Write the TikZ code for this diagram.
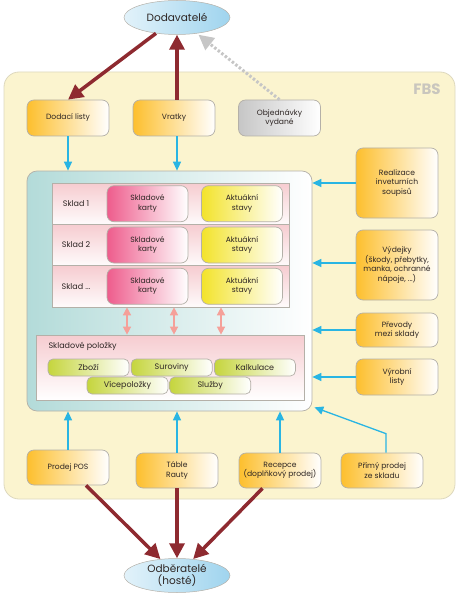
\documentclass[tikz,border=0pt]{standalone}
\usepackage{fontspec}
\setmainfont{Poppins}
\usetikzlibrary{positioning, shapes.geometric, arrows.meta}

\definecolor{fbsyellow}{HTML}{FBF4CF}
\definecolor{fbsline}{HTML}{DDD8BE}
\definecolor{fbstext}{HTML}{C9C6BE}
\definecolor{boxgray}{HTML}{B4B0A8}
\definecolor{textdark}{HTML}{2E2624}
\definecolor{docorange}{HTML}{FDBF2D}
\definecolor{objgray}{HTML}{C6C6C6}
\definecolor{skladteal}{HTML}{B3DBD9}
\definecolor{rowpink}{HTML}{F6CCD0}
\definecolor{cardpink}{HTML}{EE5C8C}
\definecolor{stateyellow}{HTML}{F3E32A}
\definecolor{chipgreen}{HTML}{C5D53D}
\definecolor{partnerblue}{HTML}{9FD4EE}
\definecolor{moneyred}{HTML}{8E2A30}
\definecolor{flowcyan}{HTML}{29B5E3}
\definecolor{linkpink}{HTML}{F5A099}

\tikzset{
  box/.style={draw=boxgray, line width=0.7pt, rounded corners=7pt, align=center,
    inner sep=1pt, text=textdark, font=\fontsize{7.6}{9.4}\selectfont},
  doc/.style={box, left color=docorange, right color=white,
    minimum width=82pt, minimum height=36pt},
  docgray/.style={doc, left color=objgray},
  card/.style={box, left color=cardpink, right color=white,
    minimum width=81pt, minimum height=36pt},
  state/.style={card, left color=stateyellow},
  chip/.style={box, rounded corners=5pt, left color=chipgreen, right color=white,
    minimum width=81pt, minimum height=17pt, font=\fontsize{8}{9}\selectfont},
  row/.style={draw=boxgray, line width=0.7pt, top color=rowpink, bottom color=white!92!rowpink,
    minimum width=237pt, minimum height=41.3pt},
  partner/.style={ellipse, draw=boxgray, line width=0.5pt, left color=partnerblue!30,
    right color=partnerblue, minimum width=106pt, minimum height=34pt, align=center,
    inner sep=0pt, text=textdark, font=\fontsize{10.5}{12}\selectfont},
  money/.style={line width=3.5pt, draw=moneyred, -{Triangle[length=15pt,width=15pt]}},
  flow/.style={line width=1.3pt, draw=flowcyan, -{Triangle[length=9pt,width=8pt]}},
  link/.style={line width=1.4pt, draw=linkpink, {Triangle[length=8pt,width=8pt]}-{Triangle[length=8pt,width=8pt]}}
}

\begin{document}
\begin{tikzpicture}[x=1pt, y=-1pt]
  \useasboundingbox (0,0) rectangle (462,596);

  % FBS area
  \draw[fill=fbsyellow, draw=fbsline, line width=0.8pt, rounded corners=15pt] (4,72) rectangle (455,499);
  \node[text=fbstext, font=\fontsize{15}{15}\selectfont\bfseries] (fbs) at (427,89) {FBS};

  % Suppliers and customers
  \node[partner] (dodavatele) at (177,17.5) {Dodavatelé};
  \node[partner] (odberatele) at (177,575.5) {Odběratelé\\(hosté)};

  % Documents to and from suppliers
  \node[doc] (dodaci) at (68,118) {Dodací listy};
  \node[doc] (vratky) at (174,118) {Vratky};
  \node[docgray] (objednavky) at (279.5,118) {Objednávky\\vydané};

  % Warehouses
  \node[draw=boxgray, line width=0.7pt, rounded corners=10pt, left color=skladteal, right color=white,
    minimum width=285pt, minimum height=240pt] (sklady) at (169.5,291) {};

  \node[row] (sklad1) at (170.5,203.7) {};
  \node[row] (sklad2) at (170.5,245) {};
  \node[row] (sklad3) at (170.5,286.3) {};

  \node[text=textdark, font=\fontsize{8}{9}\selectfont] (label1) at (76,203.7) {Sklad 1};
  \node[text=textdark, font=\fontsize{8}{9}\selectfont] (label2) at (76,245) {Sklad 2};
  \node[text=textdark, font=\fontsize{8}{9}\selectfont] (label3) at (76,286.3) {Sklad ...};

  \node[card] (karty1) at (147.5,203.7) {Skladové\\karty};
  \node[card] (karty2) at (147.5,245) {Skladové\\karty};
  \node[card] (karty3) at (147.5,286.3) {Skladové\\karty};
  \node[state] (stavy1) at (242,203.7) {Aktuákní\\stavy};
  \node[state] (stavy2) at (242,245) {Aktuákní\\stavy};
  \node[state] (stavy3) at (242,286.3) {Aktuákní\\stavy};

  % Stock items
  \node[draw=boxgray, line width=0.7pt, top color=rowpink, bottom color=white,
    minimum width=268pt, minimum height=65pt] (polozky) at (170,367.5) {};
  \node[anchor=west, text=textdark, font=\fontsize{8}{9}\selectfont] (polozkylabel) at (45,346) {Skladové položky};

  \node[chip] (zbozi) at (88.5,367.5) {Zboží};
  \node[chip, right=1.5pt of zbozi] (suroviny) {Suroviny};
  \node[chip, right=1.5pt of suroviny] (kalkulace) {Kalkulace};
  \node[chip] (vicepolozky) at (127.5,385.5) {Vícepoložky};
  \node[chip, right=1pt of vicepolozky] (sluzby) {Služby};

  \draw[link] (sklad3.south -| 127,0) -- (polozky.north -| 127,0);
  \draw[link] (sklad3.south -| 174,0) -- (polozky.north -| 174,0);
  \draw[link] (sklad3.south -| 221,0) -- (polozky.north -| 221,0);

  % Internal documents
  \node[doc, minimum height=70pt] (realizace) at (397,183) {Realizace\\inveturních\\soupisů};
  \node[doc, minimum height=70pt] (vydejky) at (397,265) {Výdejky\\(škody, přebytky,\\manka, ochranné\\nápoje, ...)};
  \node[doc, minimum height=34pt] (prevody) at (397,330) {Převody\\mezi sklady};
  \node[doc, minimum height=36pt] (vyrobni) at (397,377) {Výrobní\\listy};

  % Sales
  \node[doc, minimum height=35pt] (prodej) at (68,467.5) {Prodej POS};
  \node[doc, minimum height=35pt] (table) at (177,470.5) {Táble\\Rauty};
  \node[doc, minimum height=35pt, inner sep=0pt] (recepce) at (280,470.5) {Recepce\\(doplňkový prodej)};
  \node[doc, minimum height=35pt] (primy) at (382,470.5) {Přímý prodej\\ze skladu};

  % Arrows to and from suppliers
  \draw[money] (dodavatele) -- (dodaci.north);
  \draw[money] (vratky.north -| dodavatele) -- (dodavatele.south);
  \draw[line width=3pt, draw=objgray, dash pattern=on 2.5pt off 2pt,
    -{Triangle[length=15pt,width=15pt,fill=objgray]}, shorten >=2pt] (objednavky.north) -- (dodavatele);

  % Arrows into warehouses
  \draw[flow] (dodaci.south) -- (dodaci.south |- sklady.north);
  \draw[flow] (vratky.south -| dodavatele) -- (sklady.north -| dodavatele);
  \draw[flow] (realizace) -- (realizace -| sklady.east);
  \draw[flow] ([yshift=2pt]vydejky.west) -- ([yshift=2pt]vydejky.west -| sklady.east);
  \draw[flow] (prevody) -- (prevody -| sklady.east);
  \draw[flow] (vyrobni) -- (vyrobni -| sklady.east);
  \draw[flow] (prodej.north) -- (prodej.north |- sklady.south);
  \draw[flow] (table.north) -- (table.north |- sklady.south);
  \draw[flow] (recepce.north) -- (recepce.north |- sklady.south);
  \draw[flow] ([xshift=4pt]primy.north) -- ++(0,-19) -- ([xshift=2pt,yshift=4pt]sklady.south east);

  % Arrows to customers
  \draw[money] (prodej) -- (odberatele);
  \draw[money] (table) -- (odberatele);
  \draw[money] (recepce) -- (odberatele);
\end{tikzpicture}
\end{document}
